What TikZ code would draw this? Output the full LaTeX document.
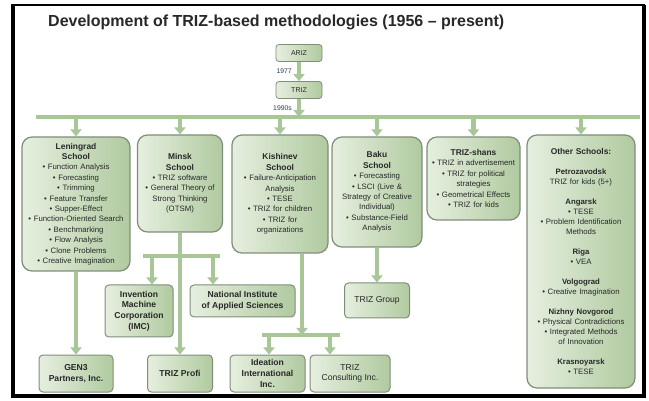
\documentclass[tikz,border=0pt]{standalone}
\usepackage{fontspec}
\setmainfont{Liberation Sans}
\newfontfamily\titlefont{Liberation Sans}
\usetikzlibrary{arrows.meta}
\definecolor{boxL}{RGB}{230,239,223}
\definecolor{boxR}{RGB}{176,202,160}
\definecolor{boxB}{RGB}{128,142,120}
\definecolor{connC}{RGB}{168,198,152}
\definecolor{txt}{RGB}{40,40,40}
\definecolor{yeartxt}{RGB}{40,58,78}
\tikzset{
  school/.style={draw=boxB, line width=1.2pt, rounded corners=10pt, left color=boxL, right color=boxR,
    align=center, inner sep=2pt, text=txt, font=\fontsize{7.8}{10.4}\selectfont},
  smallbox/.style={draw=boxB, line width=1pt, rounded corners=4pt, left color=boxL, right color=boxR,
    align=center, inner sep=2pt, text=txt, font=\bfseries\fontsize{8.6}{10.8}\selectfont},
  tinybox/.style={draw=boxB, line width=0.8pt, rounded corners=3pt, left color=boxL, right color=boxR,
    align=center, inner sep=1pt, text=txt, font=\fontsize{7}{8}\selectfont},
  conn/.style={draw=connC, line width=4.5pt},
  arr/.style={conn, -{Triangle[width=11pt,length=7pt]}},
  yearlbl/.style={text=yeartxt, font=\fontsize{6.8}{7}\selectfont, inner sep=1pt, anchor=east}
}
\newcommand{\hdr}[1]{{\bfseries\fontsize{8.4}{10.4}\selectfont #1}}
\begin{document}
\begin{tikzpicture}[x=1pt,y=-1pt]
\useasboundingbox (0,0) rectangle (649,401);
\fill[white] (0,0) rectangle (649,401);
% frame
\draw[line width=2pt] (12,5) rectangle (644,395);
\draw[line width=4.5pt] (13,5) -- (13,396) -- (644,396) -- (644,5);

% title
\node[font=\titlefont\bfseries\fontsize{16}{18}\selectfont, anchor=west, text=txt, inner sep=0pt] (title) at (48,22)
  {Development of TRIZ-based methodologies (1956 – present)};

% top
\node[tinybox, minimum width=46pt, minimum height=17pt] (ariz) at (299,53) {ARIZ};
\node[tinybox, minimum width=46pt, minimum height=17pt] (triz) at (299,90) {TRIZ};
\coordinate (barL) at (36,117);
\coordinate (barR) at (640,117);
\draw[arr] (ariz.south) -- (triz.north) node[midway, yearlbl, xshift=-4pt] (y1977) {1977};
\draw[arr] (triz.south) -- (triz.south |- barL) node[pos=0.5, yearlbl, xshift=-4pt] (y1990) {1990s};
\draw[conn] (barL) -- (barR);

% schools
\node[school, text width=104pt, minimum height=134pt] (len) at (76,204)
 {\hdr{Leningrad}\\\hdr{School}\\• Function Analysis\\• Forecasting\\• Trimming\\• Feature Transfer\\• Supper-Effect\\• Function-Oriented Search\\• Benchmarking\\• Flow Analysis\\• Clone Problems\\• Creative Imagination};
\node[school, text width=81pt, minimum height=97pt] (minsk) at (180,183.5)
 {\hdr{Minsk}\\\hdr{School}\\• TRIZ software\\• General Theory of\\Strong Thinking\\(OTSM)};
\node[school, text width=92pt, minimum height=118pt] (kish) at (280,194)
 {\hdr{Kishinev}\\\hdr{School}\\• Failure-Anticipation\\Analysis\\• TESE\\• TRIZ for children\\• TRIZ for\\organizations};
\node[school, text width=86pt, minimum height=110pt] (baku) at (377,192)
 {\hdr{Baku}\\\hdr{School}\\• Forecasting\\• LSCI (Live \&\\Strategy of Creative\\Individual)\\• Substance-Field\\Analysis};
\node[school, text width=89pt, minimum height=83pt] (shans) at (473.5,178.5)
 {\hdr{TRIZ-shans}\\• TRIZ in advertisement\\• TRIZ for political\\strategies\\• Geometrical Effects\\• TRIZ for kids};
\node[school, text width=104pt, minimum height=253pt, font=\fontsize{7.8}{10}\selectfont] (other) at (581,261.5)
 {\hdr{Other Schools:}\\[10pt]\textbf{Petrozavodsk}\\TRIZ for kids (5+)\\[10pt]\textbf{Angarsk}\\• TESE\\• Problem Identification\\Methods\\[10pt]\textbf{Riga}\\• VEA\\[10pt]\textbf{Volgograd}\\• Creative Imagination\\[10pt]\textbf{Nizhny Novgorod}\\• Physical Contradictions\\• Integrated Methods\\of Innovation\\[10pt]\textbf{Krasnoyarsk}\\• TESE};

\foreach \b in {len,minsk,kish,baku,shans,other}
  \draw[arr] (\b.north |- barL) -- (\b.north);

% lower boxes
\node[smallbox, minimum width=68pt, minimum height=52pt] (imc) at (139,311) {Invention\\Machine\\Corporation\\(IMC)};
\node[smallbox, minimum width=105pt, minimum height=32pt] (nias) at (242.5,301) {National Institute\\of Applied Sciences};
\node[smallbox, minimum width=65pt, minimum height=35pt, font=\fontsize{8.6}{10.8}\selectfont] (tgroup) at (377,300.5) {TRIZ Group};
\node[smallbox, minimum width=74pt, minimum height=37pt] (gen3) at (76,373.5) {GEN3\\Partners, Inc.};
\node[smallbox, minimum width=65pt, minimum height=37pt] (profi) at (180,373.5) {TRIZ Profi};
\node[smallbox, minimum width=75pt, minimum height=37pt] (idea) at (267.5,373.5) {Ideation\\International\\Inc.};
\node[smallbox, minimum width=80pt, minimum height=37pt, font=\fontsize{8.6}{10.8}\selectfont] (tcons) at (350,373.5) {TRIZ\\Consulting Inc.};

% lower connectors
\draw[arr] (len.south) -- (len.south |- gen3.north);
\draw[arr] (minsk.south) -- (minsk.south |- profi.north);
\coordinate (mbL) at (143,256);
\coordinate (mbR) at (220,256);
\coordinate (mb1) at (152,256);
\coordinate (mb2) at (213,256);
\draw[conn] (mbL) -- (mbR);
\draw[arr] (mb1) -- (mb1 |- imc.north);
\draw[arr] (mb2) -- (mb2 |- nias.north);
\draw[arr] (baku.south) -- (baku.south |- tgroup.north);
\coordinate (kbL) at (262,335);
\coordinate (kbR) at (340,335);
\coordinate (kb) at (302,335);
\coordinate (k1) at (269,335);
\coordinate (k2) at (330,335);
\draw[arr] (kb |- kish.south) -- (kb);
\draw[conn] (kbL) -- (kbR);
\draw[arr] (k1) -- (k1 |- idea.north);
\draw[arr] (k2) -- (k2 |- tcons.north);
\end{tikzpicture}
\end{document}
